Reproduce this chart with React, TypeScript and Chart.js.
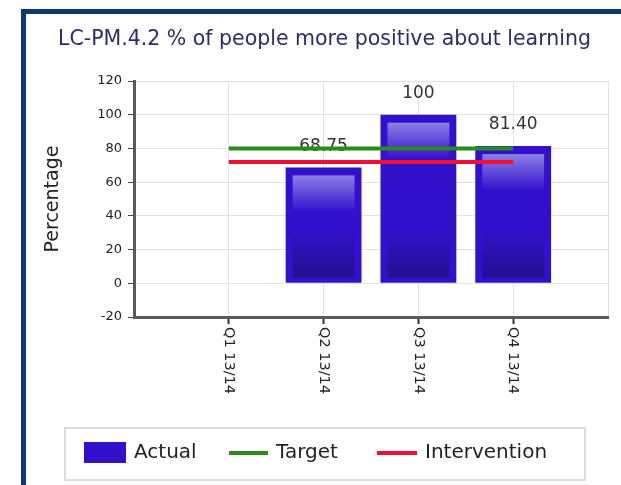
import React, { useEffect, useRef } from "react";
import { Chart, registerables } from "chart.js";

Chart.register(...registerables);

const chartTitle = "LC-PM.4.2 % of people more positive about learning";
const categories = ["Q1 13/14", "Q2 13/14", "Q3 13/14", "Q4 13/14"];
const actualValues: (number | null)[] = [null, 68.75, 100, 81.4];
const targetValues = [80, 80, 80, 80];
const interventionValues = [72, 72, 72, 72];
const yTicks = { min: -20, max: 120, step: 20 };
const seriesNames = ["Actual", "Target", "Intervention"];

const FONT = "'DejaVu Sans', Verdana, sans-serif";
const BAR = "#3311cc";
const GREEN = "#2a8a1e";
const RED = "#f01035";

const pad = <T,>(a: T[]): (T | null)[] => [null, ...a, null];

const fmt = (v: number) => (Number.isInteger(v) ? String(v) : v.toFixed(2));

const decorPlugin = {
  id: "decor",
  afterDatasetDraw(chart: any, args: any) {
    if (args.index !== 0) return;
    const ctx = chart.ctx;
    const meta = chart.getDatasetMeta(0);
    const data = chart.data.datasets[0].data;
    meta.data.forEach((bar: any, i: number) => {
      const v = data[i];
      if (v === null || v === undefined) return;
      const { x, y, base, width } = bar.getProps(["x", "y", "base", "width"], true);
      const left = x - width / 2 + 7;
      const right = x + width / 2 - 7;
      const top = y + 8;
      const bottom = base - 5;
      const h = bottom - top;
      if (h > 0) {
        const g = ctx.createLinearGradient(0, top, 0, bottom);
        const f1 = Math.min(0.45, 36 / h);
        const f2 = Math.max(f1, 1 - 48 / h);
        g.addColorStop(0, "#8b80e6");
        g.addColorStop(f1, BAR);
        g.addColorStop(f2, BAR);
        g.addColorStop(1, "#22108e");
        ctx.save();
        ctx.fillStyle = g;
        ctx.fillRect(left, top, right - left, h);
        ctx.restore();
      }
      ctx.save();
      ctx.font = `17px ${FONT}`;
      ctx.fillStyle = "#333";
      ctx.textAlign = "center";
      ctx.textBaseline = "middle";
      ctx.fillText(fmt(v), x, y - 21);
      ctx.restore();
    });
  },
  afterDraw(chart: any) {
    const ctx = chart.ctx;
    // title
    ctx.save();
    ctx.font = `20.5px ${FONT}`;
    ctx.fillStyle = "#2c2c6a";
    ctx.textAlign = "left";
    ctx.textBaseline = "alphabetic";
    ctx.fillText(chartTitle, 58, 45);
    ctx.restore();

    // rotated x labels
    const xs = chart.scales.x;
    ctx.save();
    ctx.font = `14.5px ${FONT}`;
    ctx.fillStyle = "#222";
    ctx.textAlign = "left";
    ctx.textBaseline = "middle";
    chart.data.labels.forEach((lab: string, i: number) => {
      if (!lab) return;
      const px = xs.getPixelForTick(i);
      ctx.save();
      ctx.translate(px, xs.top + 10);
      ctx.rotate(Math.PI / 2);
      ctx.fillText(lab, 0, 0);
      ctx.restore();
    });
    ctx.restore();

    // legend
    const ds = chart.data.datasets;
    ctx.save();
    ctx.strokeStyle = "#dcdcdc";
    ctx.lineWidth = 2;
    ctx.strokeRect(65, 428, 520, 52);
    ctx.font = `20px ${FONT}`;
    ctx.fillStyle = "#222";
    ctx.textBaseline = "middle";
    ctx.textAlign = "left";
    const cy = 453;
    ctx.fillStyle = ds[0].backgroundColor;
    ctx.fillRect(84, 442, 42, 21);
    ctx.fillStyle = "#222";
    ctx.fillText(ds[0].label, 134, cy);
    ctx.strokeStyle = ds[1].borderColor;
    ctx.lineWidth = 4;
    ctx.beginPath();
    ctx.moveTo(229, cy);
    ctx.lineTo(268, cy);
    ctx.stroke();
    ctx.fillText(ds[1].label, 276, cy);
    ctx.strokeStyle = ds[2].borderColor;
    ctx.beginPath();
    ctx.moveTo(377, cy);
    ctx.lineTo(417, cy);
    ctx.stroke();
    ctx.fillText(ds[2].label, 425, cy);
    ctx.restore();
  },
};

export default function App() {
  const ref = useRef<HTMLCanvasElement | null>(null);

  useEffect(() => {
    if (!ref.current) return;
    const labels = ["", ...categories, ""];
    const chart = new Chart(ref.current, {
      type: "bar",
      data: {
        labels,
        datasets: [
          {
            type: "bar",
            label: seriesNames[0],
            data: pad(actualValues),
            backgroundColor: BAR,
            borderWidth: 0,
            barPercentage: 1,
            categoryPercentage: 0.8,
            order: 2,
          } as any,
          {
            type: "line",
            label: seriesNames[1],
            data: pad(targetValues),
            borderColor: GREEN,
            backgroundColor: GREEN,
            borderWidth: 4,
            pointRadius: 0,
            fill: false,
            order: 1,
          },
          {
            type: "line",
            label: seriesNames[2],
            data: pad(interventionValues),
            borderColor: RED,
            backgroundColor: RED,
            borderWidth: 4,
            pointRadius: 0,
            fill: false,
            order: 1,
          },
        ],
      },
      options: {
        responsive: false,
        animation: false,
        devicePixelRatio: 1,
        layout: { padding: { left: 0, top: 81, right: 13, bottom: 0 } },
        plugins: { legend: { display: false }, tooltip: { enabled: false }, title: { display: false } },
        scales: {
          x: {
            type: "category",
            offset: false,
            grid: {
              offset: false,
              color: "#e2e2e2",
              lineWidth: 1,
              tickLength: 7,
              tickWidth: 2,
              tickColor: (c: any) =>
                c.index === 0 || c.index === labels.length - 1 ? "rgba(0,0,0,0)" : "#333",
            },
            border: { color: "#5a5a5a", width: 3 },
            ticks: { display: false },
            afterFit: (s: any) => {
              s.height = 168;
            },
          },
          y: {
            min: yTicks.min,
            max: yTicks.max,
            ticks: {
              stepSize: yTicks.step,
              color: "#222",
              font: { family: FONT, size: 13 },
              padding: 6,
            },
            grid: { color: "#e2e2e2", lineWidth: 1, tickLength: 6, tickColor: "#444" },
            border: { color: "#5a5a5a", width: 3 },
            title: {
              display: true,
              text: "Percentage",
              color: "#222",
              font: { family: FONT, size: 19 },
              padding: { top: 42, bottom: 0 },
            },
            afterFit: (s: any) => {
              s.width = 134;
            },
          },
        },
      },
      plugins: [decorPlugin],
    } as any);
    return () => chart.destroy();
  }, []);

  return (
    <div
      style={{
        position: "fixed",
        left: 0,
        top: 0,
        width: 621,
        height: 485,
        background: "#fff",
        overflow: "hidden",
      }}
    >
      <div
        style={{
          position: "absolute",
          left: 21,
          top: 9,
          width: 800,
          height: 700,
          borderLeft: "5px solid #0d3b6e",
          borderTop: "5px solid #0d3b6e",
        }}
      />
      <canvas
        ref={ref}
        width={621}
        height={485}
        style={{ position: "absolute", left: 0, top: 0, width: 621, height: 485 }}
      />
    </div>
  );
}
